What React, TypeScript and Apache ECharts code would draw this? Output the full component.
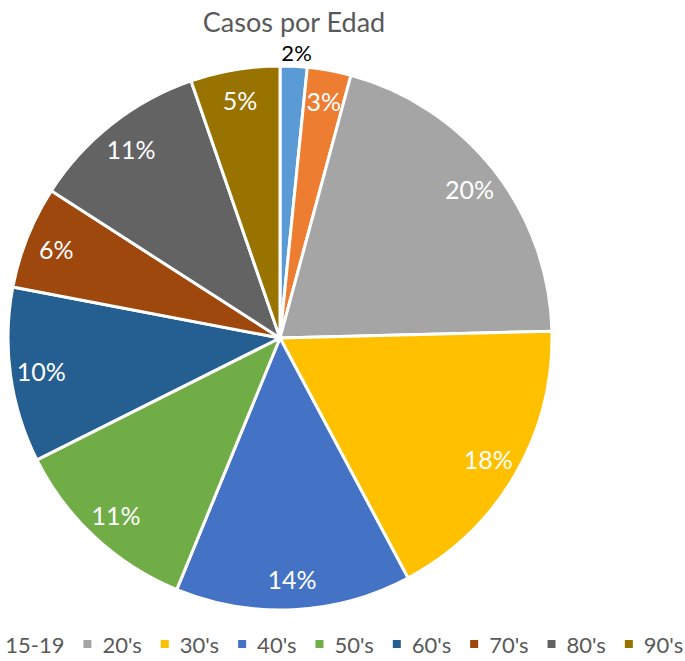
import React, { useEffect, useRef } from "react";
import * as echarts from "echarts";

const titleText = "Casos por Edad";
const categories = ["10-14", "15-19", "20's", "30's", "40's", "50's", "60's", "70's", "80's", "90's"];
const casos = [16, 26, 204, 176, 140, 114, 104, 61, 106, 53];
const colors = ["#5B9BD5", "#ED7D31", "#A5A5A5", "#FFC000", "#4472C4", "#70AD47", "#255E91", "#9E480E", "#636363", "#997300"];

const FONT = "Lato, 'Open Sans', sans-serif";

export default function App() {
  const ref = useRef<HTMLDivElement>(null);
  useEffect(() => {
    if (!ref.current) return;
    const chart = echarts.init(ref.current, undefined, { renderer: "svg" });
    const center = [280, 338];
    const R = 272;
    const mainData = categories.map((name, i) => ({
      name,
      value: casos[i],
      itemStyle: { color: colors[i] },
    }));
    const labelData = categories.map((name, i) => ({
      name,
      value: casos[i],
      itemStyle: { color: "transparent", borderWidth: 0 },
      label:
        i === 0
          ? { position: "outside", color: "#000000", fontSize: 22, distanceToLabelLine: -13 }
          : { position: "inside" },
      labelLine: i === 0 ? { show: false, length: 14, length2: 0 } : { show: false },
    }));
    chart.setOption({
      animation: false,
      textStyle: { fontFamily: FONT },
      title: {
        text: titleText,
        left: 289,
        top: 3,
        textAlign: "center",
        textStyle: { fontFamily: FONT, fontSize: 27, fontWeight: "normal", color: "#595959" },
      },
      legend: {
        data: categories,
        left: -118,
        top: 628,
        width: 900,
        orient: "horizontal",
        icon: "rect",
        itemWidth: 10,
        itemHeight: 10,
        itemGap: 17,
        textStyle: { fontFamily: FONT, fontSize: 22, color: "#595959", padding: [0, 0, 0, 5] },
      },
      series: [
        {
          type: "pie",
          center,
          radius: [0, R],
          startAngle: 90,
          clockwise: true,
          silent: true,
          label: { show: false },
          labelLine: { show: false },
          itemStyle: { borderColor: "#ffffff", borderWidth: 3 },
          data: mainData,
        },
        {
          type: "pie",
          center,
          radius: [204, R],
          startAngle: 90,
          clockwise: true,
          silent: true,
          avoidLabelOverlap: false,
          label: {
            show: true,
            color: "#ffffff",
            fontSize: 25,
            fontFamily: FONT,
            formatter: (p: any) => Math.round(p.percent) + "%",
          },
          labelLine: { show: false },
          data: labelData,
        },
      ],
    });
    return () => chart.dispose();
  }, []);
  return <div ref={ref} style={{ width: 685, height: 661, position: "absolute", left: 0, top: 0 }} />;
}
